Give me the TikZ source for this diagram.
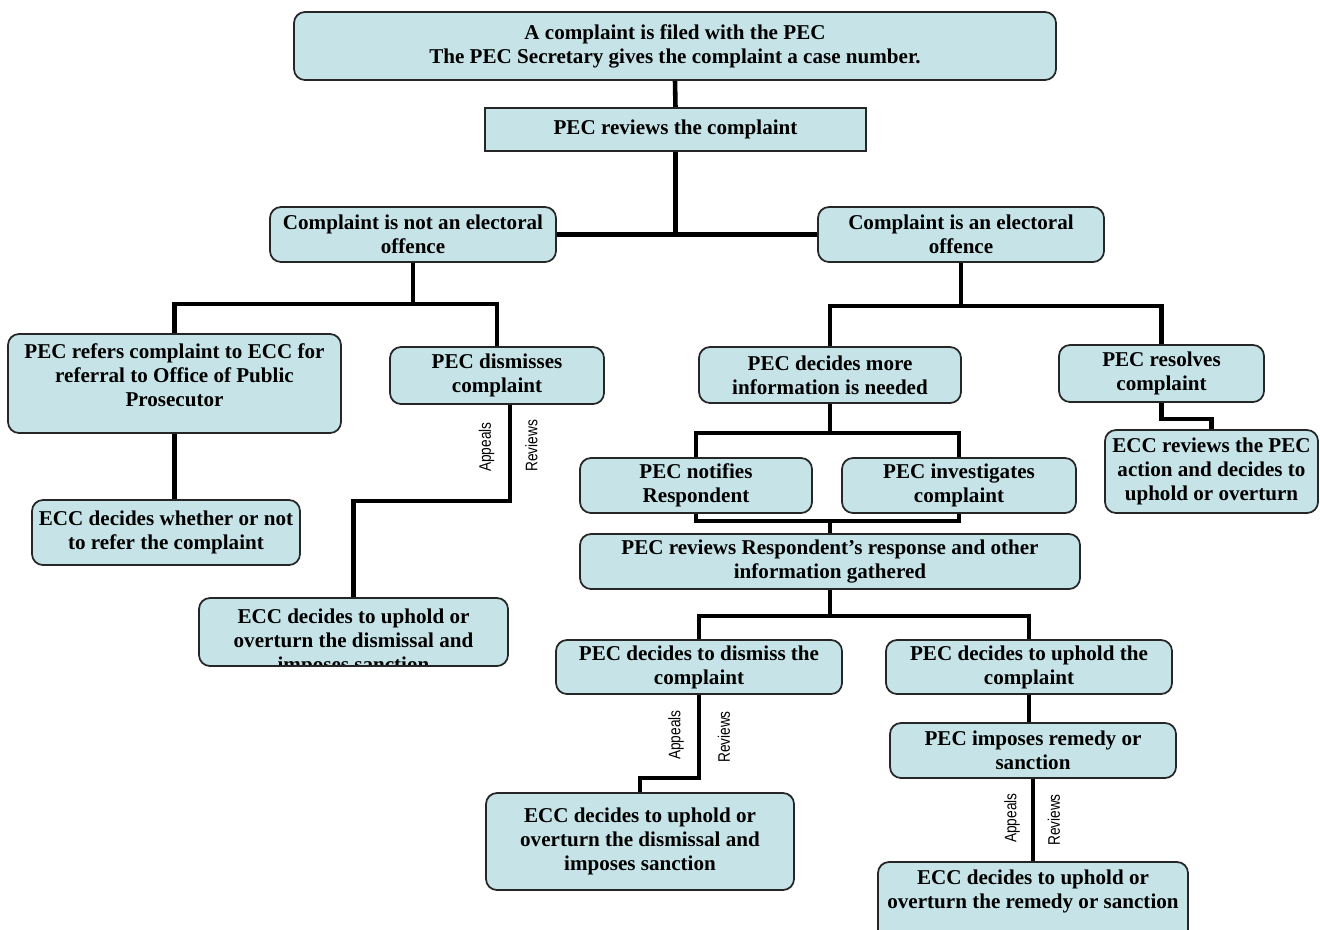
\documentclass[tikz,border=0pt]{standalone}
\usepackage{fontspec}
\setmainfont{Liberation Serif}
\setsansfont{Liberation Sans}
\usetikzlibrary{positioning}
\definecolor{boxblue}{RGB}{198,228,232}

\begin{document}
\begin{tikzpicture}[
    box/.style={draw=black!85, fill=boxblue, rounded corners=0.22cm, line width=1pt,
      font=\bfseries\fontsize{12}{13.7}\selectfont, align=center, inner sep=1pt},
    sqbox/.style={box, rounded corners=0pt},
    boxtext/.style={draw=none, fill=none, minimum width=0pt, minimum height=0pt,
      font=\bfseries\fontsize{12}{13.7}\selectfont, align=center, inner sep=0pt},
    conn/.style={line width=2.6pt},
    lab/.style={font=\sffamily\fontsize{9.5}{11}\selectfont, rotate=90, inner sep=0pt},
  ]
  \useasboundingbox (0,0) rectangle (26.4,-18.58);

  % top of the tree
  \node[box, minimum width=15.24cm, minimum height=1.36cm] (filed) at (13.5,-0.92)
    {A complaint is filed with the PEC\\The PEC Secretary gives the complaint a case number.};
  \node[sqbox, minimum width=7.62cm, minimum height=0.86cm] (rev) at (13.51,-2.59)
    {PEC reviews the complaint};
  \node[box, minimum width=5.72cm, minimum height=1.1cm] (notoff) at (8.26,-4.69)
    {Complaint is not an electoral\\offence};
  \node[box, minimum width=5.72cm, minimum height=1.1cm] (isoff) at (19.22,-4.69)
    {Complaint is an electoral\\offence};

  % not an offence
  \node[box, minimum width=6.66cm, minimum height=1.98cm, path picture={
      \node[boxtext] at ([yshift=0.16cm]path picture bounding box.center)
        {PEC refers complaint to ECC for\\referral to Office of Public\\Prosecutor};}]
    (refer) at (3.49,-7.67) {};
  \node[box, minimum width=4.28cm, minimum height=1.14cm] (dismiss) at (9.94,-7.51)
    {PEC dismisses\\complaint};
  \node[box, minimum width=5.36cm, minimum height=1.3cm] (eccrefer) at (3.32,-10.65)
    {ECC decides whether or not\\to refer the complaint};
  \node[box, minimum width=6.18cm, minimum height=1.36cm, path picture={
      \node[boxtext] at ([yshift=-0.2cm]path picture bounding box.center)
        {ECC decides to uphold or\\overturn the dismissal and\\imposes sanction};}]
    (eccdisA) at (7.07,-12.64) {};

  % an offence
  \node[box, minimum width=5.24cm, minimum height=1.12cm] (moreinfo) at (16.6,-7.5)
    {PEC decides more\\information is needed};
  \node[box, minimum width=4.1cm, minimum height=1.14cm] (resolve) at (23.23,-7.47)
    {PEC resolves\\complaint};
  \node[box, minimum width=4.26cm, minimum height=1.66cm] (eccrev) at (24.23,-9.43)
    {ECC reviews the PEC\\action and decides to\\uphold or overturn};
  \node[box, minimum width=4.64cm, minimum height=1.1cm] (notify) at (13.92,-9.71)
    {PEC notifies\\Respondent};
  \node[box, minimum width=4.68cm, minimum height=1.1cm] (invest) at (19.18,-9.71)
    {PEC investigates\\complaint};
  \node[box, minimum width=10cm, minimum height=1.1cm] (resp) at (16.6,-11.23)
    {PEC reviews Respondent’s response and other\\information gathered};
  \node[box, minimum width=5.72cm, minimum height=1.08cm] (decdism) at (13.98,-13.34)
    {PEC decides to dismiss the\\complaint};
  \node[box, minimum width=5.72cm, minimum height=1.08cm] (decuph) at (20.58,-13.34)
    {PEC decides to uphold the\\complaint};
  \node[box, minimum width=5.72cm, minimum height=1.1cm] (remedy) at (20.66,-15.01)
    {PEC imposes remedy or\\sanction};
  \node[box, minimum width=6.16cm, minimum height=1.94cm] (eccdisB) at (12.8,-16.83)
    {ECC decides to uphold or\\overturn the dismissal and\\imposes sanction};
  \node[box, minimum width=6.2cm, minimum height=1.7cm, path picture={
      \node[boxtext, anchor=north] at ([yshift=-0.14cm]path picture bounding box.north)
        {ECC decides to uphold or\\overturn the remedy or sanction};}]
    (eccrem) at (20.66,-18.09) {};

  % junctions
  \coordinate (splitA) at ([yshift=-0.82cm]notoff.south);
  \coordinate (splitB) at ([yshift=-0.86cm]isoff.south);
  \coordinate (splitC) at ([yshift=-0.58cm]moreinfo.south);
  \coordinate (mergeC) at ([yshift=0.24cm]resp.north);
  \coordinate (splitD) at ([yshift=-0.52cm]resp.south);

  \draw[conn] (filed.south) -- (rev.north);
  \draw[conn] (rev.south) -- (rev.south |- notoff.east);
  \draw[conn] (notoff.east) -- (isoff.west);

  \draw[conn] (notoff.south) -- (splitA);
  \draw[conn] (refer.north) |- (splitA) -| (dismiss.north);
  \draw[conn] (refer.south) -- (refer.south |- eccrefer.north);
  \draw[conn] ([xshift=0.26cm]dismiss.south) -- ++(0,-1.92) -| (eccdisA.north);

  \draw[conn] (isoff.south) -- (splitB);
  \draw[conn] (moreinfo.north) |- (splitB) -| (resolve.north);
  \draw[conn] (resolve.south) -- ++(0,-0.32) -| (eccrev.north);
  \draw[conn] (moreinfo.south) -- (splitC);
  \draw[conn] (notify.north) |- (splitC) -| (invest.north);
  \draw[conn] (notify.south) |- (mergeC) -| (invest.south);
  \draw[conn] (mergeC) -- (resp.north);
  \draw[conn] (resp.south) -- (splitD);
  \draw[conn] (decdism.north) |- (splitD) -| (decuph.north);
  \draw[conn] (decdism.south) -- ++(0,-1.66) -| (eccdisB.north);
  \draw[conn] (decuph.south) -- (decuph.south |- remedy.north);
  \draw[conn] (remedy.south) -- (eccrem.north);

  % appeal labels
  \node[lab] (appA) at (9.73,-8.94) {\scalebox{0.82}[1]{Appeals}};
  \node[lab] (revA) at (10.63,-8.92) {\scalebox{0.82}[1]{Reviews}};
  \node[lab] (appB) at (13.52,-14.7) {\scalebox{0.82}[1]{Appeals}};
  \node[lab] (revB) at (14.48,-14.74) {\scalebox{0.82}[1]{Reviews}};
  \node[lab] (appC) at (20.24,-16.36) {\scalebox{0.82}[1]{Appeals}};
  \node[lab] (revC) at (21.08,-16.4) {\scalebox{0.82}[1]{Reviews}};
\end{tikzpicture}
\end{document}
